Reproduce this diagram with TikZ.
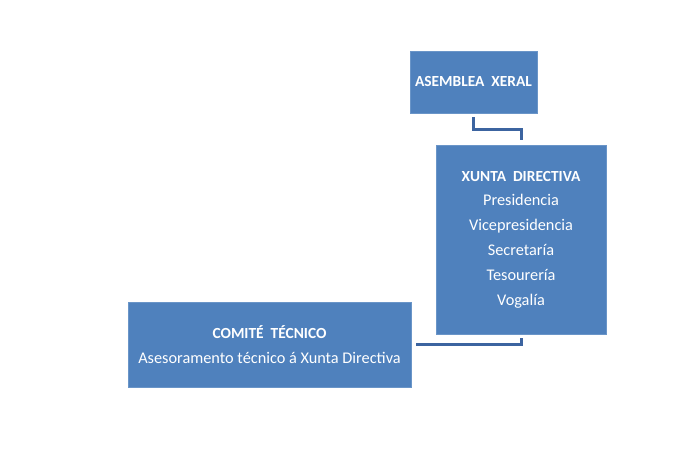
\documentclass[tikz,border=0pt]{standalone}
\usepackage{fontspec}
\setmainfont{Carlito}
\definecolor{boxfill}{HTML}{4F81BD}
\definecolor{boxline}{HTML}{6A95C8}
\definecolor{conn}{HTML}{3C64A0}
\newcommand{\hdr}[1]{{\fontsize{15.4}{24.8}\selectfont\bfseries #1}}
\begin{document}
\begin{tikzpicture}[x=1pt,y=-1pt,
  orgbox/.style={draw=boxline,line width=0.6pt,fill=boxfill,text=white,align=center,inner sep=0pt,
    font=\fontsize{16.3}{24.8}\selectfont},
  link/.style={draw=conn,line width=3pt}]
\useasboundingbox (0,0) rectangle (700,450);
\node[orgbox,minimum width=127pt,minimum height=62pt] (asem) at (473.5,82) {\hdr{ASEMBLEA\ \ XERAL}};
\node[orgbox,minimum width=170pt,minimum height=189pt] (xunta) at (521,239.5) {\hdr{XUNTA\ \ DIRECTIVA}\\Presidencia\\Vicepresidencia\\Secretaría\\Tesourería\\Vogalía};
\node[orgbox,minimum width=283pt,minimum height=85pt] (comite) at (269.5,344.5) {\hdr{COMITÉ\ \ TÉCNICO}\\Asesoramento técnico á Xunta Directiva};
\draw[link] ([yshift=-4pt]asem.south) -- ++(0,12) -| ([yshift=5pt]xunta.north);
\draw[link] ([xshift=5pt]comite.east) -| ([yshift=-4pt]xunta.south);
\end{tikzpicture}
\end{document}
